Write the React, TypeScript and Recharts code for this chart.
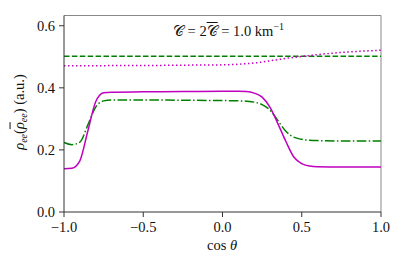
import React from "react"
import { LineChart, Line, XAxis, YAxis, ReferenceLine } from "recharts"

// cos(theta) sample points shared by every curve
const cosTheta = [
  -1, -0.95, -0.9, -0.85, -0.8, -0.75, -0.7, -0.5, -0.25, 0, 0.1, 0.15, 0.2, 0.25, 0.3,
  0.35, 0.4, 0.45, 0.5, 0.55, 0.6, 0.75, 1,
]

// rho_ee (magenta solid)
const rhoEe = [
  0.139, 0.141, 0.165, 0.26, 0.355, 0.384, 0.386, 0.387, 0.388, 0.389, 0.389, 0.388, 0.383,
  0.37, 0.337, 0.284, 0.227, 0.177, 0.156, 0.148, 0.146, 0.145, 0.145,
]
// rho-bar_ee (green dash-dot)
const rhoBarEe = [
  0.224, 0.217, 0.225, 0.28, 0.338, 0.358, 0.361, 0.361, 0.36, 0.359, 0.358, 0.357, 0.354,
  0.346, 0.328, 0.294, 0.26, 0.241, 0.234, 0.231, 0.23, 0.229, 0.229,
]
// initial rho-bar_ee (green dashed)
const rhoBarInit = [
  0.502, 0.502, 0.502, 0.502, 0.502, 0.502, 0.502, 0.502, 0.502, 0.502, 0.502, 0.502, 0.502,
  0.502, 0.502, 0.502, 0.502, 0.502, 0.502, 0.502, 0.502, 0.502, 0.502,
]
// initial rho_ee (magenta dotted)
const rhoInit = [
  0.471, 0.471, 0.471, 0.471, 0.471, 0.471, 0.472, 0.472, 0.473, 0.474, 0.476, 0.478, 0.48,
  0.483, 0.487, 0.491, 0.495, 0.498, 0.501, 0.504, 0.507, 0.514, 0.521,
]

const xTicks = [-1, -0.5, 0, 0.5, 1]
const yTicks = [0, 0.2, 0.4, 0.6]

const data = cosTheta.map((c, i) => ({
  c,
  rho: rhoEe[i],
  rhoBar: rhoBarEe[i],
  rhoBarInit: rhoBarInit[i],
  rhoInit: rhoInit[i],
}))

const MAGENTA = "#bf00bf"
const GREEN = "#008000"
const serif = "'Liberation Serif', 'DejaVu Serif', serif"
const tickStyle = { fill: "#111", fontSize: 14.5, fontFamily: serif }

const fmt = (v: number) => (v < 0 ? "\u2212" + Math.abs(v).toFixed(1) : v.toFixed(1))

export default function App() {
  return (
    <div style={{ position: "absolute", left: 0, top: 0, width: 407, height: 271, background: "#fff" }}>
      <LineChart width={407} height={271} data={data} margin={{ top: 15.5, right: 26, left: 0, bottom: 0 }}>
        <XAxis
          dataKey="c"
          type="number"
          domain={[-1, 1]}
          ticks={xTicks}
          tickFormatter={fmt}
          height={59}
          tickSize={5}
          tickMargin={5}
          stroke="#333"
          tick={tickStyle}
        />
        <YAxis
          type="number"
          domain={[0, 0.633]}
          ticks={yTicks}
          tickFormatter={fmt}
          width={64}
          tickSize={5}
          tickMargin={4}
          stroke="#333"
          tick={tickStyle}
        />
        <ReferenceLine y={0.633} stroke="#888" strokeWidth={1} />
        <ReferenceLine x={1} stroke="#888" strokeWidth={1} />
        <Line dataKey="rhoBarInit" type="monotone" stroke={GREEN} strokeWidth={1.5} strokeDasharray="5.5 2.4" dot={false} isAnimationActive={false} />
        <Line dataKey="rhoInit" type="monotone" stroke={MAGENTA} strokeWidth={1.5} strokeDasharray="1.5 2.5" dot={false} isAnimationActive={false} />
        <Line dataKey="rhoBar" type="monotone" stroke={GREEN} strokeWidth={1.5} strokeDasharray="9.6 2.4 1.5 2.4" dot={false} isAnimationActive={false} />
        <Line dataKey="rho" type="monotone" stroke={MAGENTA} strokeWidth={1.5} dot={false} isAnimationActive={false} />
      </LineChart>

      <div style={{ position: "absolute", left: 0, width: 407, top: 21, textAlign: "center", paddingLeft: 50, boxSizing: "border-box", fontFamily: serif, fontSize: 14.5, color: "#111", whiteSpace: "nowrap" }}>
        𝒞&nbsp;=&nbsp;2<span style={{ textDecoration: "overline" }}>𝒞</span>&nbsp;=&nbsp;1.0 km<sup style={{ fontSize: 10 }}>−1</sup>
      </div>

      <div style={{ position: "absolute", left: 222, top: 237, transform: "translateX(-50%)", fontFamily: serif, fontSize: 14.5, color: "#111", whiteSpace: "nowrap" }}>
        cos <i>θ</i>
      </div>

      <div style={{ position: "absolute", left: 20, top: 112, transform: "translate(-50%, -50%) rotate(-90deg)", fontFamily: serif, fontSize: 14.5, color: "#111", whiteSpace: "nowrap" }}>
        <i>ρ</i><sub style={{ fontSize: 10 }}><i>ee</i></sub>(<span style={{ textDecoration: "overline" }}><i>ρ</i></span><sub style={{ fontSize: 10 }}><i>ee</i></sub>) (a.u.)
      </div>
    </div>
  )
}
